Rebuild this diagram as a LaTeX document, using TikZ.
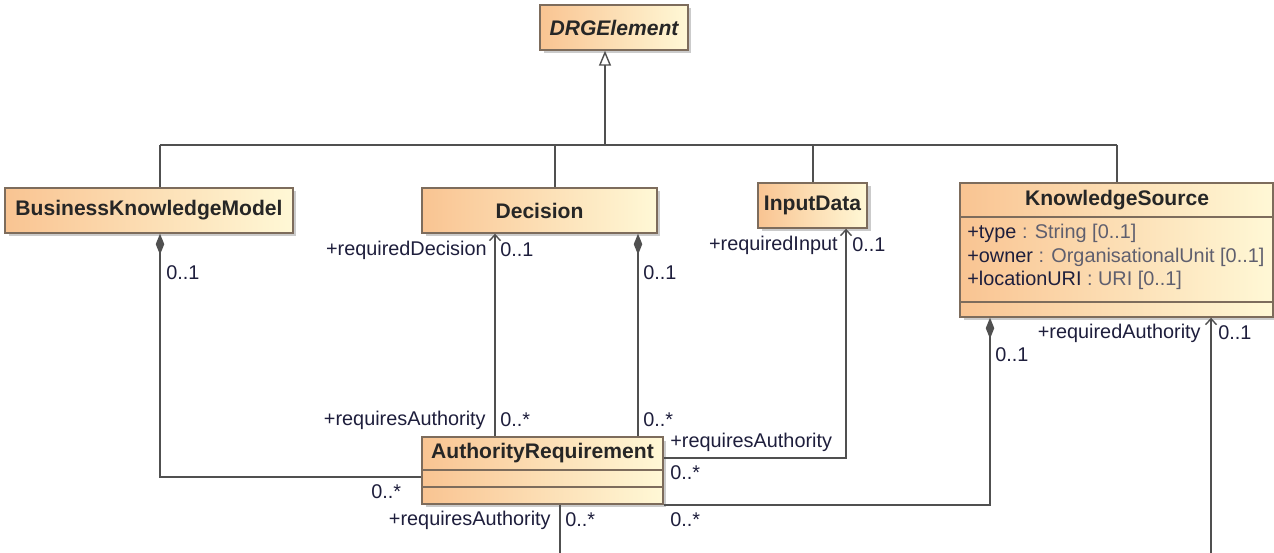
\documentclass[tikz,border=0pt]{standalone}
\usepackage{fontspec}
\setmainfont{Liberation Sans}
\usetikzlibrary{arrows.meta,shadows,calc}
\definecolor{boxL}{RGB}{249,196,146}
\definecolor{boxR}{RGB}{255,248,214}
\definecolor{boxD}{RGB}{125,108,92}
\definecolor{lineC}{RGB}{80,80,80}
\definecolor{lblC}{RGB}{30,30,60}
\definecolor{typC}{RGB}{95,95,110}
\begin{document}
\begin{tikzpicture}[x=0.02cm,y=-0.02cm,
  font=\fontsize{11.3}{13}\selectfont,
  umlbox/.style={draw=boxD, line width=0.8pt, left color=boxL, right color=boxR,
    drop shadow={shadow xshift=0.07cm,shadow yshift=-0.07cm,fill=black!40},
    inner sep=0pt, anchor=center},
  ttl/.style={font=\fontsize{12}{14}\selectfont\bfseries, text=black!85},
  lbl/.style={text=lblC, inner sep=0pt},
  conn/.style={draw=lineC, line width=0.8pt},
  comp/.style={conn, {Diamond[length=0.42cm,width=0.17cm]}-},
  nav/.style={conn, -{Straight Barb[length=0.12cm,width=0.22cm]}},
  gen/.style={conn, -{Triangle[open,length=0.3cm,width=0.24cm,fill=white]}},
  sep/.style={draw=boxD, line width=0.8pt}
]
\useasboundingbox (0,0) rectangle (1274,553);
\fill[white] (0,0) rectangle (1274,553);

% generalization tree
\coordinate (bus) at (605,145);
\coordinate (busL) at (160,145);
\coordinate (busR) at (1117,145);

% boxes
\node[umlbox, ttl, font=\fontsize{12}{14}\selectfont\bfseries\itshape, minimum width=2.96cm, minimum height=0.9cm] (drg) at (614,27.5) {DRGElement};
\node[umlbox, ttl, minimum width=5.76cm, minimum height=0.9cm] (bkm) at (149,210.5) {BusinessKnowledgeModel};
\node[umlbox, ttl, minimum width=4.7cm, minimum height=0.9cm] (dec) at (539.5,210.5) {Decision};
\node[umlbox, ttl, minimum width=2.18cm, minimum height=0.9cm] (inp) at (812.5,205.5) {InputData};
\node[umlbox, minimum width=6.26cm, minimum height=2.68cm] (ks) at (1116.5,250) {};
\node[umlbox, minimum width=4.82cm, minimum height=1.34cm] (ar) at (542.5,470.5) {};

% KnowledgeSource compartments
\node[ttl] (ksT) at (1117,200) {KnowledgeSource};
\draw[sep] (ks.west |- 0,217) -- (ks.east |- 0,217);
\draw[sep] (ks.west |- 0,302) -- (ks.east |- 0,302);
\node[lbl, anchor=west] (ksA1) at (967,233) {+type \textcolor{typC}{: String [0..1]}};
\node[lbl, anchor=west] (ksA2) at (967,257) {+owner \textcolor{typC}{: OrganisationalUnit [0..1]}};
\node[lbl, anchor=west] (ksA3) at (967,280) {+locationURI \textcolor{typC}{: URI [0..1]}};

% AuthorityRequirement compartments
\node[ttl] (arT) at (542.5,453) {AuthorityRequirement};
\draw[sep] (ar.west |- 0,470) -- (ar.east |- 0,470);
\draw[sep] (ar.west |- 0,487) -- (ar.east |- 0,487);

% generalization
\draw[gen] (bus) -- (drg.south -| bus);
\draw[conn] (busL) -- (busR);
\draw[conn] (busL) -- (bkm.north -| busL);
\draw[conn] (bus -| 555,0) -- (dec.north -| 555,0);
\draw[conn] (bus -| 813,0) -- (inp.north -| 813,0);
\draw[conn] (busR) -- (ks.north -| busR);

% associations
\draw[comp] (bkm.south -| 160,0) |- (ar.west |- 0,477);
\draw[nav] (ar.north -| 495,0) -- (dec.south -| 495,0);
\draw[comp] (dec.south -| 638,0) -- (ar.north -| 638,0);
\draw[nav] (ar.east |- 0,458) -| (inp.south -| 846,0);
\draw[comp] (ks.south -| 990,0) |- (ar.east |- 0,505);
\coordinate (arOut) at (560,556);
\draw[conn] (ar.south -| arOut) -- (arOut);
\coordinate (ksIn) at (1211,556);
\draw[nav] (ksIn) -- (ks.south -| ksIn);

% labels
\node[lbl, anchor=west] (l1) at (166,273) {0..1};
\node[lbl, anchor=west] (l2) at (371,492) {0..*};
\node[lbl, anchor=east] (l3) at (487,250) {+requiredDecision};
\node[lbl, anchor=west] (l4) at (500,250) {0..1};
\node[lbl, anchor=west] (l5) at (643,273) {0..1};
\node[lbl, anchor=east] (l6) at (486,420) {+requiresAuthority};
\node[lbl, anchor=west] (l7) at (500,420) {0..*};
\node[lbl, anchor=west] (l8) at (643,420) {0..*};
\node[lbl, anchor=west] (l9) at (670,442) {+requiresAuthority};
\node[lbl, anchor=west] (l10) at (670,473) {0..*};
\node[lbl, anchor=east] (l11) at (551,520) {+requiresAuthority};
\node[lbl, anchor=west] (l12) at (565,520) {0..*};
\node[lbl, anchor=west] (l13) at (670,520) {0..*};
\node[lbl, anchor=east] (l14) at (838,245) {+requiredInput};
\node[lbl, anchor=west] (l15) at (852,245) {0..1};
\node[lbl, anchor=west] (l16) at (995,355) {0..1};
\node[lbl, anchor=east] (l17) at (1201,333) {+requiredAuthority};
\node[lbl, anchor=west] (l18) at (1218,333) {0..1};
\end{tikzpicture}
\end{document}
